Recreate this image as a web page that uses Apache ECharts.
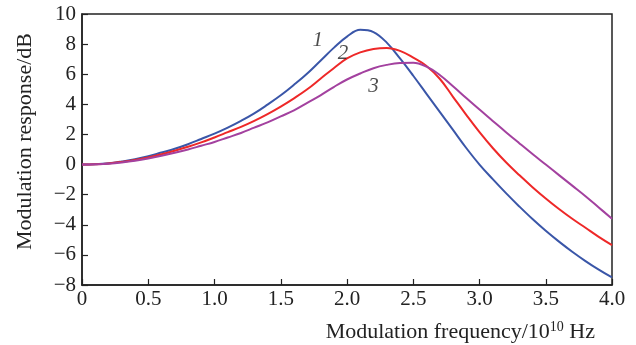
<!DOCTYPE html>
<html><head><meta charset="utf-8">
<script src="https://cdn.jsdelivr.net/npm/echarts@6/dist/echarts.min.js"></script>
<style>html,body{margin:0;padding:0;background:#fff}#c{width:636px;height:345px}</style>
</head><body><div id="c"></div>
<script>
const freq = [0,0.1,0.2,0.3,0.4,0.5,0.6,0.7,0.8,0.9,1.0,1.1,1.2,1.3,1.4,1.5,1.6,1.7,1.8,1.9,2.0,2.1,2.2,2.3,2.4,2.5,2.6,2.7,2.8,2.9,3.0,3.1,3.2,3.3,3.4,3.5,3.6,3.7,3.8,3.9,4.0];
const curve1 = [0,0.02,0.08,0.2,0.35,0.55,0.8,1.05,1.35,1.7,2.05,2.45,2.9,3.4,3.98,4.6,5.3,6.05,6.9,7.75,8.5,8.95,8.8,8.1,7.05,5.9,4.7,3.5,2.3,1.1,0.0,-0.97,-1.9,-2.78,-3.62,-4.4,-5.12,-5.79,-6.41,-6.98,-7.5];
const curve2 = [0,0.02,0.07,0.17,0.3,0.47,0.68,0.92,1.18,1.47,1.8,2.15,2.5,2.9,3.35,3.85,4.4,5.0,5.7,6.4,7.05,7.45,7.68,7.75,7.55,7.1,6.55,5.7,4.5,3.3,2.15,1.1,0.15,-0.7,-1.5,-2.25,-2.95,-3.6,-4.2,-4.8,-5.35];
const curve3 = [0,0.02,0.06,0.14,0.25,0.4,0.58,0.78,1.0,1.25,1.5,1.8,2.1,2.45,2.8,3.2,3.6,4.1,4.6,5.15,5.65,6.05,6.4,6.62,6.75,6.77,6.5,5.95,5.2,4.42,3.65,2.9,2.15,1.42,0.7,0.0,-0.7,-1.4,-2.1,-2.85,-3.6];
const curveLabels = ['1','2','3'];
const labelPos = [[1.78,8.25],[1.97,7.35],[2.2,5.2]];
const colors = ['#3a56a8','#ee2828','#a3419f'];
const xName = 'Modulation frequency/10';
const yName = 'Modulation response/dB';

const font = '"Liberation Serif","Times New Roman",serif';
const chart = echarts.init(document.getElementById('c'));
const mk = a => freq.map((f,i)=>[f,a[i]]);
const series = [curve1,curve2,curve3].map((a,i)=>({
  type:'line', data: mk(a), smooth:0.4, symbol:'none',
  lineStyle:{color:colors[i], width:2}, z:3
}));
series.push({
  type:'scatter', symbolSize:0, z:4,
  data: labelPos.map((p,i)=>({value:p, label:{show:true, formatter:curveLabels[i]}})),
  label:{show:true, position:'inside', fontFamily:font, fontStyle:'italic', fontSize:21, color:'#222'}
});
chart.setOption({
  animation:false,
  grid:{left:82, right:24, top:14, bottom:60, show:true, borderColor:'#222', borderWidth:1.5},
  xAxis:{type:'value', min:0, max:4, interval:0.5,
    name:'{a|'+xName+'}{s|10}{a| Hz}', nameLocation:'end', nameGap:0,
    nameTextStyle:{align:'right', verticalAlign:'top', padding:[35,17,0,0],
      rich:{a:{fontFamily:font,fontSize:22,color:'#222'}, s:{fontFamily:font,fontSize:14,color:'#222',verticalAlign:'top',padding:[0,0,10,0]}}},
    axisLine:{onZero:false, lineStyle:{color:'#222',width:1.5}},
    axisTick:{inside:true,length:6,lineStyle:{color:'#222',width:1.2}},
    axisLabel:{fontFamily:font,fontSize:21,color:'#222',margin:4,
      formatter:v=>v===0?'0':v.toFixed(1)},
    splitLine:{show:false}},
  yAxis:{type:'value', min:-8, max:10, interval:2,
    name:yName, nameLocation:'middle', nameGap:46, nameRotate:90,
    nameTextStyle:{fontFamily:font,fontSize:22,color:'#222',padding:[0,0,0,16]},
    axisLine:{onZero:false, lineStyle:{color:'#222',width:1.5}},
    axisTick:{inside:true,length:6,lineStyle:{color:'#222',width:1.2}},
    axisLabel:{fontFamily:font,fontSize:21,color:'#222',margin:6,
      formatter:v=>v<0?'\u2212'+Math.abs(v):String(v)},
    splitLine:{show:false}},
  series
});
</script></body></html>
